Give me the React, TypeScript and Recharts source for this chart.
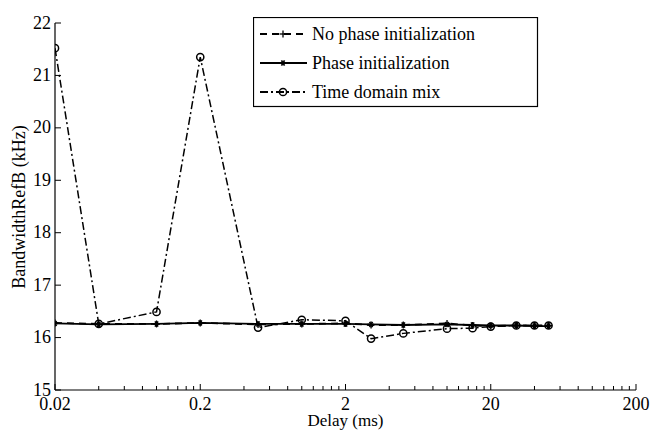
import { LineChart, Line, XAxis, YAxis, Legend } from 'recharts'

// Delay values (ms) shared by all three series
const delays = [0.02, 0.04, 0.1, 0.2, 0.5, 1, 2, 3, 5, 10, 15, 20, 30, 40, 50]

// Bandwidth RefB (kHz)
const noPhaseInit = [16.28, 16.26, 16.26, 16.28, 16.25, 16.26, 16.27, 16.24, 16.24, 16.27, 16.23, 16.22, 16.23, 16.23, 16.23]
const phaseInit = [16.27, 16.25, 16.26, 16.28, 16.26, 16.26, 16.26, 16.25, 16.24, 16.25, 16.24, 16.23, 16.23, 16.22, 16.22]
const timeDomainMix = [21.52, 16.26, 16.49, 21.35, 16.19, 16.34, 16.32, 15.98, 16.08, 16.17, 16.18, 16.21, 16.23, 16.23, 16.23]

const seriesNames = ['No phase initialization', 'Phase initialization', 'Time domain mix']

const xMajorTicks = [0.02, 0.2, 2, 20, 200]
const xMinorTicks = [
	0.04, 0.06, 0.08, 0.1, 0.12, 0.14, 0.16, 0.18,
	0.4, 0.6, 0.8, 1, 1.2, 1.4, 1.6, 1.8,
	4, 6, 8, 10, 12, 14, 16, 18,
	40, 60, 80, 100, 120, 140, 160, 180,
]
const yTicks = [15, 16, 17, 18, 19, 20, 21, 22]

const data = delays.map((d, i) => ({
	delay: d,
	noPhase: noPhaseInit[i],
	phase: phaseInit[i],
	tdm: timeDomainMix[i],
}))

const FONT = '"Liberation Serif", "Times New Roman", serif'
const FONT_SIZE = 18
const INK = '#000'
const DASH = '7 5'
const DASH_DOT = '8 3 2 3'
const TICK_MARGIN = 8

const textStyle = { fontFamily: FONT, fontSize: FONT_SIZE }

// markers
function PlusMark({ cx, cy }: { cx: number; cy: number }) {
	return (
		<g stroke={INK} strokeWidth={1.3}>
			<line x1={cx - 3.5} x2={cx + 3.5} y1={cy} y2={cy} />
			<line x1={cx} x2={cx} y1={cy - 3.5} y2={cy + 3.5} />
		</g>
	)
}

function StarMark({ cx, cy }: { cx: number; cy: number }) {
	return (
		<g stroke={INK} strokeWidth={1.6}>
			<line x1={cx - 3} x2={cx + 3} y1={cy} y2={cy} />
			<line x1={cx - 1.5} x2={cx + 1.5} y1={cy - 2.6} y2={cy + 2.6} />
			<line x1={cx + 1.5} x2={cx - 1.5} y1={cy - 2.6} y2={cy + 2.6} />
		</g>
	)
}

function CircleMark({ cx, cy }: { cx: number; cy: number }) {
	return <circle cx={cx} cy={cy} r={3.6} fill="none" stroke={INK} strokeWidth={1.5} />
}

// ticks drawn inward, MATLAB style
function XTick(props: any) {
	const { x, y, payload } = props
	const axisY = y - TICK_MARGIN
	const isMajor = xMajorTicks.includes(payload.value)
	return (
		<g>
			<line x1={x} x2={x} y1={axisY} y2={axisY - (isMajor ? 6 : 4)} stroke={INK} strokeWidth={1} />
			{isMajor && (
				<text x={x} y={axisY + 19.5} textAnchor="middle" style={textStyle} fill={INK}>
					{payload.value}
				</text>
			)}
		</g>
	)
}

function YTick(props: any) {
	const { x, y, payload } = props
	const axisX = x + TICK_MARGIN
	return (
		<g>
			<line x1={axisX} x2={axisX + 6} y1={y} y2={y} stroke={INK} strokeWidth={1} />
			<text x={axisX - 4} y={y + 5.5} textAnchor="end" style={textStyle} fill={INK}>
				{payload.value}
			</text>
		</g>
	)
}

function LegendBox() {
	const rows = [
		{ name: seriesNames[0], dash: DASH, Mark: PlusMark },
		{ name: seriesNames[1], dash: undefined, Mark: StarMark },
		{ name: seriesNames[2], dash: DASH_DOT, Mark: CircleMark },
	]
	return (
		<svg width={286} height={91} style={{ display: 'block' }}>
			<rect x={0.5} y={0.5} width={284} height={89} fill="#fff" stroke={INK} strokeWidth={1.2} />
			{rows.map((r, i) => {
				const cy = 17 + i * 29
				return (
					<g key={r.name}>
						<line x1={7} x2={54} y1={cy} y2={cy} stroke={INK} strokeWidth={1.8} strokeDasharray={r.dash} />
						<r.Mark cx={30} cy={cy} />
						<text x={59} y={cy + 5.5} style={textStyle} fill={INK}>
							{r.name}
						</text>
					</g>
				)
			})}
		</svg>
	)
}

export default function App() {
	return (
		<div style={{ position: 'absolute', left: 0, top: 0, width: 652, height: 430, background: '#fff' }}>
			<LineChart
				width={652}
				height={430}
				data={data}
				margin={{ top: 23, right: 16, bottom: 0, left: 10 }}
			>
				<XAxis
					dataKey="delay"
					type="number"
					scale="log"
					domain={[0.02, 200]}
					allowDataOverflow
					ticks={[...xMajorTicks, ...xMinorTicks]}
					interval={0}
					tick={<XTick />}
					tickLine={false}
					tickSize={0}
					tickMargin={TICK_MARGIN}
					axisLine={{ stroke: INK, strokeWidth: 1.2 }}
					height={40}
					label={() => (
						<text x={345.5} y={425.5} textAnchor="middle" style={{ ...textStyle, fontSize: 17 }} fill={INK}>
							Delay (ms)
						</text>
					)}
				/>
				<YAxis
					type="number"
					domain={[15, 22]}
					ticks={yTicks}
					interval={0}
					tick={<YTick />}
					tickLine={false}
					tickSize={0}
					tickMargin={TICK_MARGIN}
					axisLine={{ stroke: INK, strokeWidth: 1.2 }}
					width={45}
					label={() => (
						<text
							x={19}
							y={207}
							transform="rotate(-90 19 207)"
							textAnchor="middle"
							dominantBaseline="central"
							style={textStyle}
							fill={INK}
						>
							BandwidthRefB (kHz)
						</text>
					)}
				/>
				<Legend
					layout="horizontal"
					verticalAlign="middle"
					align="center"
					wrapperStyle={{ position: 'absolute', left: 253, top: 17, width: 286, height: 91 }}
					content={() => <LegendBox />}
				/>
				<Line
					type="linear"
					dataKey="noPhase"
					name={seriesNames[0]}
					stroke={INK}
					strokeWidth={1.8}
					strokeDasharray={DASH}
					dot={(p: any) => <PlusMark key={`np-${p.index}`} cx={p.cx} cy={p.cy} />}
					isAnimationActive={false}
				/>
				<Line
					type="linear"
					dataKey="phase"
					name={seriesNames[1]}
					stroke={INK}
					strokeWidth={1.8}
					dot={(p: any) => <StarMark key={`ph-${p.index}`} cx={p.cx} cy={p.cy} />}
					isAnimationActive={false}
				/>
				<Line
					type="linear"
					dataKey="tdm"
					name={seriesNames[2]}
					stroke={INK}
					strokeWidth={1.5}
					strokeDasharray={DASH_DOT}
					dot={(p: any) => <CircleMark key={`td-${p.index}`} cx={p.cx} cy={p.cy} />}
					isAnimationActive={false}
				/>
			</LineChart>
		</div>
	)
}
